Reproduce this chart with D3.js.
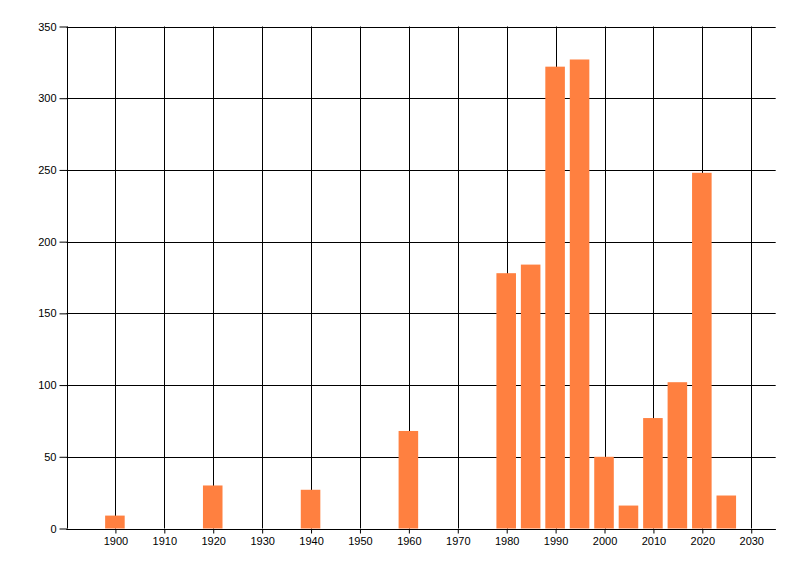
<!DOCTYPE html>
<html><head><meta charset="utf-8">
<script src="https://cdn.jsdelivr.net/npm/d3@7"></script>
<style>body{margin:0;background:#fff;} svg{display:block;} text{font-family:"Liberation Sans",Arial,sans-serif;font-size:11px;fill:#000;}</style>
</head><body>
<svg id="c" width="800" height="576"></svg>
<script>
const years = [1900,1920,1940,1960,1980,1985,1990,1995,2000,2005,2010,2015,2020,2025];
const values = [9,30,27,68,178,184,322,327,50,16,77,102,248,23];
const xTicks = [1900,1910,1920,1930,1940,1950,1960,1970,1980,1990,2000,2010,2020,2030];
const yTicks = [0,50,100,150,200,250,300,350];

const svg = d3.select('#c');
const L=66.5, R=775.7, T=26.5, B=528.5;
const x = d3.scaleLinear().domain([1890,2035]).range([L,R]);
const y = d3.scaleLinear().domain([0,350]).range([B,T]);

const g = svg.append('g');
// grid
g.selectAll('.vg').data(xTicks).join('line')
 .attr('x1',d=>Math.round(x(d))+0.5).attr('x2',d=>Math.round(x(d))+0.5)
 .attr('y1',T).attr('y2',B).attr('stroke','#000').attr('stroke-width',1);
g.selectAll('.hg').data(yTicks).join('line')
 .attr('x1',L).attr('x2',R)
 .attr('y1',d=>Math.round(y(d))+0.5).attr('y2',d=>Math.round(y(d))+0.5)
 .attr('stroke','#000').attr('stroke-width',1);

// bars
const bw = (x(1905)-x(1900))*0.8;
g.selectAll('rect').data(years).join('rect')
 .attr('x',(d)=>x(d)-bw/2-0.5).attr('width',bw)
 .attr('y',(d,i)=>y(values[i])).attr('height',(d,i)=>B-y(values[i]))
 .attr('fill','#ff8040');

// axes
const xa = svg.append('g').attr('transform',`translate(0,${Math.round(B)+0.5})`)
 .call(d3.axisBottom(x).tickValues(xTicks).tickFormat(d3.format('d')).tickSize(4).tickPadding(4));
xa.select('.domain').attr('d',`M${L},0H${R}`).attr('stroke','#000');
xa.selectAll('.tick line').attr('stroke','#000');
xa.selectAll('text').attr('font-size','11px').attr('font-family','Liberation Sans, Arial, sans-serif').attr('fill','#000');
xa.attr('font-size',null).attr('font-family',null);

const ya = svg.append('g').attr('transform',`translate(${Math.round(L)+0.5},0)`)
 .call(d3.axisLeft(y).tickValues(yTicks).tickSize(8).tickPadding(3));
ya.select('.domain').attr('d',`M0,${T}V${B}`).attr('stroke','#000');
ya.selectAll('.tick line').attr('stroke','#000');
ya.selectAll('text').attr('font-size','11px').attr('font-family','Liberation Sans, Arial, sans-serif').attr('fill','#000');
ya.attr('font-size',null).attr('font-family',null);
</script>
</body></html>
